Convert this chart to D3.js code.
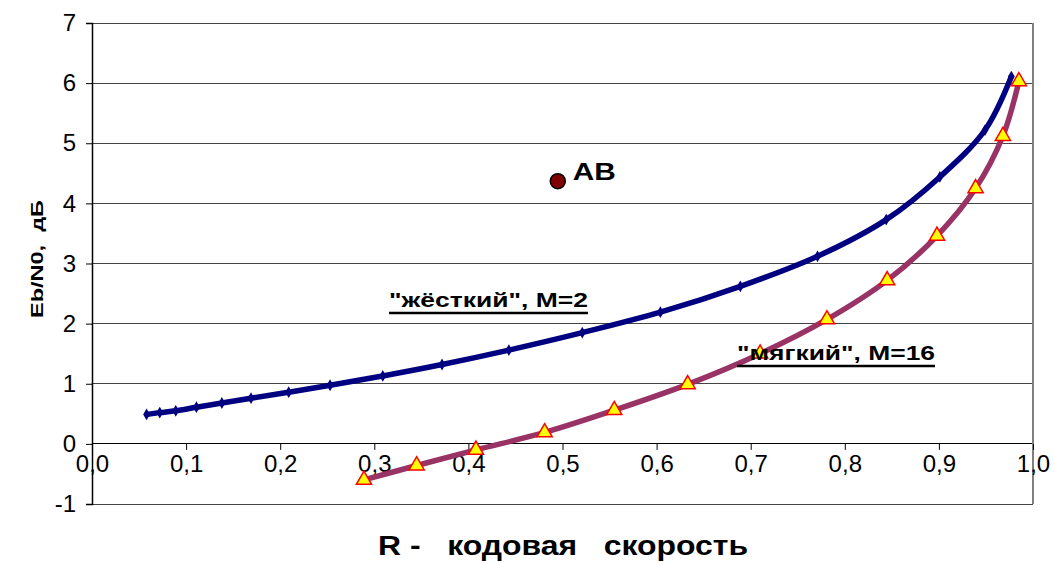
<!DOCTYPE html>
<html><head><meta charset="utf-8">
<script src="https://cdn.jsdelivr.net/npm/d3@7"></script>
<style>body{margin:0;background:#fff}svg{display:block;font-family:"Liberation Sans",Arial,sans-serif}</style>
</head><body><svg id="c" width="1054" height="562"></svg>
<script>
const hardR = [0.058,0.072,0.089,0.111,0.138,0.169,0.209,0.253,0.309,0.372,0.443,0.521,0.604,0.689,0.771,0.844,0.901,0.949,0.977];
const hardE = [0.49,0.52,0.55,0.61,0.68,0.76,0.86,0.975,1.13,1.32,1.56,1.85,2.19,2.62,3.12,3.73,4.44,5.22,6.11];
const softR = [0.289,0.345,0.408,0.481,0.555,0.633,0.710,0.781,0.845,0.898,0.939,0.968,0.985];
const softE = [-0.60,-0.36,-0.10,0.19,0.56,0.99,1.50,2.07,2.72,3.46,4.25,5.12,6.03];
const abPoint = [0.495, 4.37];
const xTicks = [0,0.1,0.2,0.3,0.4,0.5,0.6,0.7,0.8,0.9,1.0];
const yTicks = [-1,0,1,2,3,4,5,6,7];
const labels = {hard:'"жёсткий", M=2', soft:'"мягкий", M=16', ab:'AB', xTitle:'R -\u00a0\u00a0 кодовая \u00a0 скорость', yTitle:'Eb/N0,\u00a0 дБ'};

const svg = d3.select('#c');
const x = d3.scaleLinear().domain([0,1]).range([92,1033]);
const y = d3.scaleLinear().domain([-1,7]).range([504,23]);

// gridlines
svg.append('g').selectAll('line').data(yTicks).join('line')
  .attr('x1',x(0)).attr('x2',x(1)).attr('y1',d=>y(d)).attr('y2',d=>y(d))
  .attr('stroke',d=> d===0 ? '#000' : '#444').attr('stroke-width',1).attr('shape-rendering','crispEdges');
// right border
svg.append('line').attr('x1',x(1)).attr('x2',x(1)).attr('y1',y(7)).attr('y2',y(-1))
  .attr('stroke','#808080').attr('stroke-width',1.5).attr('shape-rendering','crispEdges');

// y axis
const yAxis = svg.append('g').attr('transform',`translate(${x(0)},0)`)
  .call(d3.axisLeft(y).tickValues(yTicks).tickSize(6).tickPadding(10).tickFormat(d=>String(d)));
yAxis.select('.domain').attr('stroke','#000').attr('stroke-width',1.5);
yAxis.selectAll('.tick line').attr('stroke','#000');
yAxis.selectAll('text').attr('font-size',24).attr('fill','#000').attr('font-family','"Liberation Sans",Arial,sans-serif');

// x axis at y=0
const xAxis = svg.append('g').attr('transform',`translate(0,${y(0)})`)
  .call(d3.axisBottom(x).tickValues(xTicks).tickSize(6).tickPadding(5).tickFormat(d=>d3.format('.1f')(d).replace('.',',')));
xAxis.select('.domain').remove();
xAxis.selectAll('.tick line').attr('stroke','#000');
xAxis.selectAll('text').attr('font-size',24).attr('fill','#000').attr('font-family','"Liberation Sans",Arial,sans-serif');

const line = d3.line().x(d=>x(d[0])).y(d=>y(d[1])).curve(d3.curveCatmullRom.alpha(0.5));
const hard = hardR.map((r,i)=>[r,hardE[i]]);
const soft = softR.map((r,i)=>[r,softE[i]]);

svg.append('path').datum(soft).attr('d',line).attr('fill','none').attr('stroke','#993366').attr('stroke-width',5.5).attr('stroke-linejoin','round');
svg.append('path').datum(hard).attr('d',line).attr('fill','none').attr('stroke','#000080').attr('stroke-width',5.5).attr('stroke-linejoin','round');

svg.append('g').selectAll('path').data(hard).join('path')
  .attr('d',d3.symbol(d3.symbolDiamond,40)).attr('transform',d=>`translate(${x(d[0])},${y(d[1])})`)
  .attr('fill','#000080');

svg.append('g').selectAll('path').data(soft).join('path')
  .attr('d',d3.symbol(d3.symbolTriangle,100)).attr('transform',d=>`translate(${x(d[0])},${y(d[1])})`)
  .attr('fill','#ffff00').attr('stroke','#ff0000').attr('stroke-width',1.5);

// AB point
svg.append('circle').attr('cx',x(abPoint[0])).attr('cy',y(abPoint[1])).attr('r',7.5)
  .attr('fill','#800000').attr('stroke','#000').attr('stroke-width',1.5);
svg.append('text').attr('x',x(abPoint[0])+15).attr('y',y(abPoint[1])-1).text(labels.ab)
  .attr('font-size',24).attr('font-weight','bold').attr('textLength',43).attr('lengthAdjust','spacingAndGlyphs');

// series labels
function uLabel(txt, xp, yp, w){
  svg.append('text').attr('x',xp).attr('y',yp).text(txt).attr('font-size',20).attr('font-weight','bold')
    .attr('textLength',w).attr('lengthAdjust','spacingAndGlyphs');
  svg.append('line').attr('x1',xp).attr('x2',xp+w).attr('y1',yp+6).attr('y2',yp+6).attr('stroke','#000').attr('stroke-width',2.5);
}
uLabel(labels.hard, 389, 307, 199);
uLabel(labels.soft, 737, 360, 198);

// axis titles
svg.append('text').attr('x',563).attr('y',555).attr('text-anchor','middle').text(labels.xTitle)
  .attr('font-size',27).attr('font-weight','bold').attr('textLength',370).attr('lengthAdjust','spacingAndGlyphs');
svg.append('text').attr('transform','translate(43,259) rotate(-90)').attr('text-anchor','middle').text(labels.yTitle)
  .attr('font-size',16).attr('font-weight','bold').attr('textLength',118).attr('lengthAdjust','spacingAndGlyphs');
</script></body></html>
